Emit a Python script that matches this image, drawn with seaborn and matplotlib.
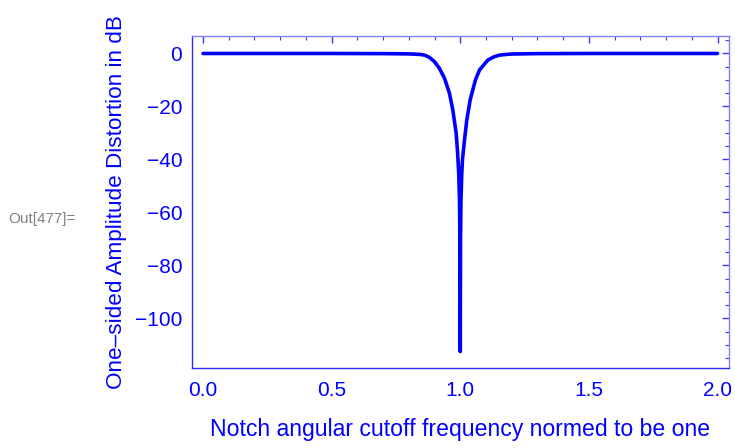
import matplotlib
matplotlib.use("Agg")
import matplotlib.pyplot as plt
from matplotlib.ticker import MultipleLocator
import seaborn as sns

# ─── DATA ──────────────────────────────────────────────────────────────────────
freq = [0.0, 0.3, 0.5, 0.7, 0.8, 0.843, 0.86, 0.87, 0.8805, 0.90, 0.919, 0.939,
        0.958, 0.971, 0.984, 0.989, 0.994, 0.997, 0.999, 1.0,
        1.001, 1.003, 1.006, 1.0085, 1.0165, 1.0255, 1.0385, 1.059, 1.075,
        1.107, 1.13, 1.153, 1.18, 1.2, 1.3, 1.5, 1.75, 2.0]
dist_db = [0.0, 0.0, 0.0, -0.05, -0.15, -0.35, -0.6, -1.0, -1.5, -3.1, -5.6, -9.4,
           -15.0, -21.3, -30.0, -36.4, -45.0, -55.0, -70.0, -112.5,
           -70.0, -55.0, -45.0, -40.2, -32.6, -25.1, -17.5, -10.0, -6.2,
           -2.5, -1.3, -0.6, -0.35, -0.2, -0.05, 0.0, 0.0, 0.0]

x_ticks = [0.0, 0.5, 1.0, 1.5, 2.0]
y_ticks = [0, -20, -40, -60, -80, -100]

XLABEL = "Notch angular cutoff frequency normed to be one"
YLABEL = "One\u2013sided Amplitude Distortion in dB"

BLUE = "#0000ff"

# ─── PLOT ──────────────────────────────────────────────────────────────────────
sns.set_style("white")
plt.rcParams['font.family'] = ['Liberation Sans', 'DejaVu Sans']

fig = plt.figure(figsize=(7.35, 4.48), dpi=100)
ax = fig.add_axes([192 / 735, 80 / 448, 537 / 735, 332 / 448])

sns.lineplot(x=freq, y=dist_db, ax=ax, color=BLUE, linewidth=2.6, sort=False)

ax.set_xlim(-0.0428, 2.0447)
ax.set_ylim(-118.7, 6.6)
ax.set_xticks(x_ticks)
ax.set_xticklabels([f"{t:.1f}" for t in x_ticks])
ax.set_yticks(y_ticks)
ax.set_yticklabels([f"\u2212{-t}" if t < 0 else str(t) for t in y_ticks])
ax.xaxis.set_minor_locator(MultipleLocator(0.1))
ax.yaxis.set_minor_locator(MultipleLocator(5))

ax.tick_params(which='both', direction='in', top=True, right=True,
               colors='#3a3aff', labelcolor=BLUE, labelsize=15)
ax.tick_params(which='major', length=5, width=1)
ax.tick_params(which='minor', length=3, width=0.8)
ax.tick_params(axis='x', pad=9)
ax.tick_params(axis='y', pad=7)

for side in ['bottom', 'left']:
    ax.spines[side].set_color('#2a2aff')
    ax.spines[side].set_linewidth(1.0)
for side in ['top', 'right']:
    ax.spines[side].set_color('#8080ff')
    ax.spines[side].set_linewidth(1.0)

ax.set_xlabel(XLABEL, color=BLUE, fontsize=16.6, labelpad=13)
ax.set_ylabel(YLABEL, color=BLUE, fontsize=16.2, labelpad=6)

fig.text(8 / 735, 1 - 219 / 448, "Out[477]=", color='#808080', fontsize=11,
         va='center', ha='left')

fig.savefig("out.png", dpi=100)
